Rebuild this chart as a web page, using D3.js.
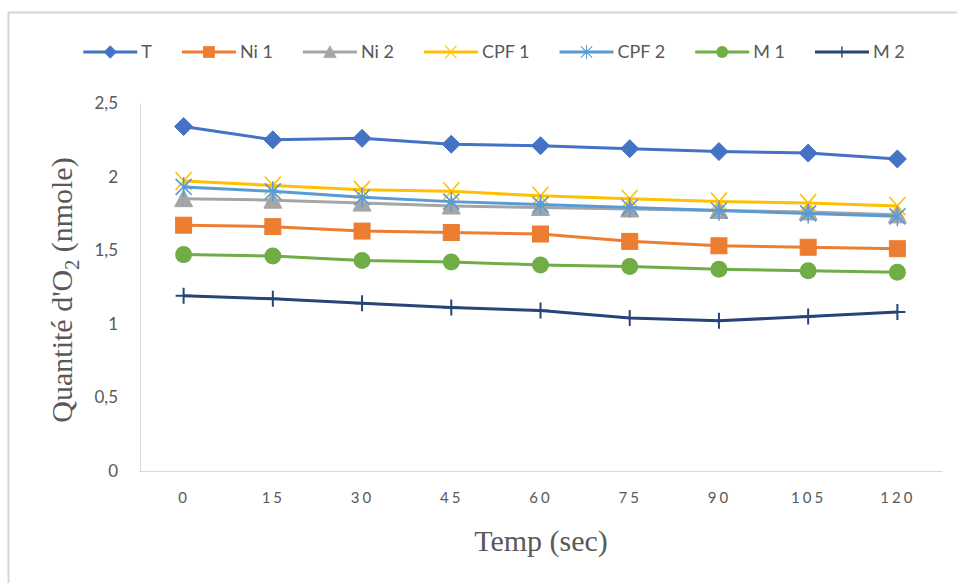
<!DOCTYPE html>
<html>
<head>
<meta charset="utf-8">
<script src="https://cdn.jsdelivr.net/npm/d3@7/dist/d3.min.js"></script>
<style>
  html, body { margin: 0; padding: 0; background: #fff; }
  svg { display: block; }
</style>
</head>
<body>
<svg id="chart" width="957" height="583"></svg>
<script>
// Time points (seconds)
const times = ["0", "15", "30", "45", "60", "75", "90", "105", "120"];

// O2 quantity (nmole) per condition
const seriesNames = ["T", "Ni 1", "Ni 2", "CPF 1", "CPF 2", "M 1", "M 2"];
const valuesT    = [2.34, 2.25, 2.26, 2.22, 2.21, 2.19, 2.17, 2.16, 2.12];
const valuesNi1  = [1.67, 1.66, 1.63, 1.62, 1.61, 1.56, 1.53, 1.52, 1.51];
const valuesNi2  = [1.85, 1.84, 1.82, 1.80, 1.79, 1.78, 1.77, 1.76, 1.74];
const valuesCPF1 = [1.97, 1.94, 1.91, 1.90, 1.87, 1.85, 1.83, 1.82, 1.80];
const valuesCPF2 = [1.93, 1.90, 1.86, 1.83, 1.81, 1.79, 1.77, 1.75, 1.73];
const valuesM1   = [1.47, 1.46, 1.43, 1.42, 1.40, 1.39, 1.37, 1.36, 1.35];
const valuesM2   = [1.19, 1.17, 1.14, 1.11, 1.09, 1.04, 1.02, 1.05, 1.08];

const yTicks = [0, 0.5, 1, 1.5, 2, 2.5];

const colors  = ["#4472C4", "#ED7D31", "#A5A5A5", "#FFC000", "#5B9BD5", "#70AD47", "#264478"];
const markers = ["diamond", "square", "triangle", "x", "star", "circle", "plus"];

const series = [valuesT, valuesNi1, valuesNi2, valuesCPF1, valuesCPF2, valuesM1, valuesM2]
  .map((vals, i) => ({ name: seriesNames[i], color: colors[i], marker: markers[i], values: vals }));

const svg = d3.select("#chart");
const textColor = "#595959";
const uiFont = "Lato, 'Open Sans', sans-serif";
const serifFont = "'Liberation Serif', 'DejaVu Serif', serif";

// chart frame
svg.append("rect")
  .attr("x", 8.5).attr("y", 12.5)
  .attr("width", 1000).attr("height", 700)
  .attr("fill", "#fff")
  .attr("stroke", "#d6d6d6").attr("stroke-width", 2);

const plot = { left: 139, right: 942, top: 103, bottom: 471 };

const x = d3.scalePoint().domain(times).range([plot.left, plot.right]).padding(0.5);
const y = d3.scaleLinear().domain([0, 2.5]).range([plot.bottom, plot.top]);

// axes
const yAxis = d3.axisLeft(y).tickValues(yTicks).tickSize(0).tickPadding(22)
  .tickFormat(d => String(d).replace(".", ","));
const gy = svg.append("g").attr("transform", `translate(${plot.left + 1},0)`).call(yAxis);
gy.select(".domain").attr("stroke", "#d9d9d9");
gy.selectAll("text").attr("fill", textColor).attr("font-family", uiFont).attr("font-size", 17);

const xAxis = d3.axisBottom(x).tickSize(0).tickPadding(21);
const gx = svg.append("g").attr("transform", `translate(0,${plot.bottom})`).call(xAxis);
gx.select(".domain").attr("stroke", "#d9d9d9");
gx.selectAll("text").attr("fill", textColor).attr("font-family", uiFont)
  .attr("font-size", 15).attr("letter-spacing", 3);

// marker shapes
function drawMarker(g, type, color) {
  switch (type) {
    case "diamond":
      g.append("path").attr("d", "M0,-9L9,0L0,9L-9,0Z").attr("fill", color).attr("stroke", color);
      break;
    case "square":
      g.append("rect").attr("x", -8).attr("y", -8).attr("width", 16).attr("height", 16)
        .attr("fill", color).attr("stroke", color);
      break;
    case "triangle":
      g.append("path").attr("d", "M0,-9L9,8L-9,8Z").attr("fill", color).attr("stroke", color);
      break;
    case "x":
      g.append("path").attr("d", "M-8,-9L8,9M8,-9L-8,9").attr("stroke", color)
        .attr("stroke-width", 1.6).attr("fill", "none");
      break;
    case "star":
      g.append("path").attr("d", "M-8,-8L8,8M8,-8L-8,8M0,-10L0,10").attr("stroke", color)
        .attr("stroke-width", 1.6).attr("fill", "none");
      break;
    case "circle":
      g.append("circle").attr("r", 8.5).attr("fill", color);
      break;
    case "plus":
      g.append("path").attr("d", "M0,-8L0,8M-8,0L8,0").attr("stroke", color)
        .attr("stroke-width", 2).attr("fill", "none");
      break;
  }
}

const line = d3.line().x((d, i) => x(times[i])).y(d => y(d));

series.forEach(s => {
  const g = svg.append("g").attr("class", "series");
  g.append("path").datum(s.values)
    .attr("d", line).attr("fill", "none")
    .attr("stroke", s.color).attr("stroke-width", 3).attr("stroke-linejoin", "round");
  s.values.forEach((v, i) => {
    const m = g.append("g").attr("transform", `translate(${x(times[i])},${y(v)})`);
    drawMarker(m, s.marker, s.color);
  });
});

// legend
const legend = svg.append("g").attr("class", "legend");
const legendY = 52, lineLen = 54, textGap = 4, itemGap = 30;
const items = series.map(s => {
  const g = legend.append("g");
  g.append("line").attr("x1", 0).attr("x2", lineLen).attr("y1", 0).attr("y2", 0)
    .attr("stroke", s.color).attr("stroke-width", 3);
  const mk = g.append("g").attr("transform", `translate(${lineLen / 2},0) scale(0.7)`);
  drawMarker(mk, s.marker, s.color);
  const t = g.append("text").attr("x", lineLen + textGap).attr("y", 0).attr("dy", "0.35em")
    .attr("fill", textColor).attr("font-family", uiFont).attr("font-size", 18).text(s.name);
  return { g, w: lineLen + textGap + t.node().getComputedTextLength() };
});
const totalW = d3.sum(items, d => d.w) + itemGap * (items.length - 1);
let lx = 494 - totalW / 2;
items.forEach(it => {
  it.g.attr("transform", `translate(${lx},${legendY})`);
  lx += it.w + itemGap;
});

// axis titles
const yTitle = svg.append("text")
  .attr("transform", "translate(72,290) rotate(-90)")
  .attr("text-anchor", "middle")
  .attr("fill", textColor).attr("font-family", serifFont).attr("font-size", 30);
yTitle.append("tspan").text("Quantité d'O");
yTitle.append("tspan").attr("font-size", 20).attr("dy", 7).text("2");
yTitle.append("tspan").attr("dy", -7).text(" (nmole)");

svg.append("text")
  .attr("x", 541).attr("y", 551)
  .attr("text-anchor", "middle")
  .attr("fill", textColor).attr("font-family", serifFont).attr("font-size", 30)
  .text("Temp (sec)");
</script>
</body>
</html>
